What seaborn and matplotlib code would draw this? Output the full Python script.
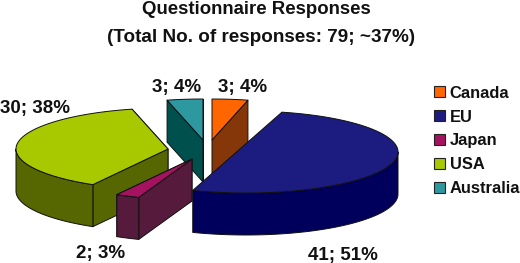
import numpy as np
import matplotlib
matplotlib.use("Agg")
import matplotlib.pyplot as plt
from matplotlib.patches import Patch
import seaborn as sns

# --- data ---
regions = ["Canada", "EU", "Japan", "USA", "Australia"]
responses = [3, 41, 2, 30, 3]
percent_labels = ["3; 4%", "41; 51%", "2; 3%", "30; 38%", "3; 4%"]
title_first = "Questionnaire Responses"
title_second = "(Total No. of responses: 79; ~37%)"

# --- style / layout ---
top_colors = sns.color_palette(["#FF6600", "#1C1C80", "#A5125F", "#A8C800", "#2E98A0"])
wall_colors = sns.color_palette(["#85370A", "#00005C", "#551A3C", "#566600", "#00504E"])
apex_px = [(212, 140), (246, 152), (192, 159), (168, 149), (203, 140)]
label_px = [(243, 92), (343, 260), (101, 258), (35, 113), (177, 92)]
RX, RY, DEPTH = 152, 41, 42
EDGE = "#101010"

sns.set_theme(style="white")
plt.rcParams["font.family"] = ["Liberation Sans", "DejaVu Sans"]
plt.rcParams["font.weight"] = "bold"

fig, ax = plt.subplots(figsize=(5.2, 2.63), dpi=100)
ax.set_position([0, 0, 1, 1])
ax.set_xlim(0, 520)
ax.set_ylim(263, 0)
ax.axis("off")


def arc(apex, t0, t1):
    t = np.linspace(t0, t1, max(int(abs(t1 - t0)) * 2, 2))
    r = np.radians(t)
    return np.column_stack([apex[0] + RX * np.sin(r), apex[1] - RY * np.cos(r)])


def quad_wall(pts, color, z):
    low = pts[::-1] + np.array([0, DEPTH])
    poly = np.vstack([pts, low])
    ax.fill(poly[:, 0], poly[:, 1], facecolor=color, edgecolor=EDGE, lw=0.7,
            joinstyle="round", zorder=z)


angles = np.cumsum([0] + responses) / sum(responses) * 360.0
draw_order = [4, 0, 3, 2, 1]
for n, i in enumerate(draw_order):
    z = 10 + n * 5
    a0, a1 = angles[i], angles[i + 1]
    apex = np.array(apex_px[i], float)
    edge = arc(apex, a0, a1)
    large = (a1 - a0) >= 180
    if not large:
        radials = sorted(
            [np.array([edge[0], apex]), np.array([apex, edge[-1]])],
            key=lambda s: s[:, 1].mean(),
        )
        for k, seg in enumerate(radials):
            quad_wall(seg, wall_colors[i], z + k)
    f0, f1 = max(a0, 90), min(a1, 270)
    if f1 > f0:
        quad_wall(arc(apex, f0, f1), wall_colors[i], z + 2)
    top = edge if large else np.vstack([apex, edge])
    ax.fill(top[:, 0], top[:, 1], facecolor=top_colors[i], edgecolor=EDGE, lw=0.7,
            joinstyle="round", zorder=z + 3)

for text, (x, y) in zip(percent_labels, label_px):
    ax.text(x, y, text, ha="center", va="baseline", fontsize=13.5, color="#111111", zorder=50)

ax.text(256, 14, title_first, ha="center", va="baseline", fontsize=13.4, color="#111111")
ax.text(261, 41.5, title_second, ha="center", va="baseline", fontsize=13.6, color="#111111")

handles = [Patch(facecolor=c, edgecolor="#222222", lw=0.8, label=r)
           for c, r in zip(top_colors, regions)]
ax.legend(handles=handles, loc="center left", bbox_to_anchor=(434, 141),
          bbox_transform=ax.transData, frameon=False, fontsize=11.9,
          handlelength=0.66, handleheight=0.66, handletextpad=0.3,
          labelspacing=0.54, borderpad=0, borderaxespad=0, labelcolor="#111111")

fig.savefig("out.png", dpi=100)
